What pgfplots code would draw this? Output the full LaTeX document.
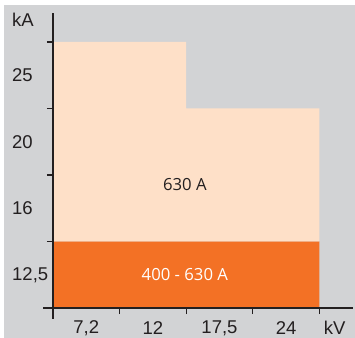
\documentclass[border=0pt]{standalone}
\usepackage{pgfplots}
\pgfplotsset{compat=1.18}
\usepackage{fontspec}
\setmainfont{Liberation Sans}
\newfontfamily\labfont{Open Sans}
\definecolor{bggray}{HTML}{D2D3D5}
\definecolor{peach}{HTML}{FEE0C8}
\definecolor{orng}{HTML}{F37125}
\definecolor{axdark}{HTML}{231F20}
\begin{document}
\begin{tikzpicture}[x=1bp,y=1bp]
\useasboundingbox (-53,-30) rectangle (302,308);
\fill[bggray] (-49,-30) rectangle (302,303);
\begin{axis}[
  at={(0,0)}, anchor=origin,
  x=66.6bp, y=66.5bp,
  xmin=-0.15, xmax=4.5, ymin=-0.165, ymax=4.44,
  axis lines=middle,
  axis line style={-, axdark, line width=1.3bp},
  axis on top,
  tick align=outside,
  major tick length=6bp,
  major tick style={axdark, line width=1.3bp},
  hide obscured x ticks=false,
  hide obscured y ticks=false,
  xtick={1,2,3,4}, xticklabels={},
  ytick={1,2,3,4}, yticklabels={},
  extra x ticks={0.5,1.5,2.5,3.5,4.23},
  extra x tick labels={{7,2},12,{17,5},24,kV},
  extra x tick style={major tick length=0pt, major tick style={draw=none},
     xticklabel style={anchor=center, yshift=-20bp, inner sep=0pt}},
  extra y ticks={0.5,1.5,2.5,3.5,4.33},
  extra y tick labels={{12,5},16,20,25,kA},
  extra y tick style={major tick length=0pt, major tick style={draw=none},
     yticklabel style={anchor=west, xshift=-41bp, inner sep=0pt}},
  ticklabel style={font=\fontsize{18.5bp}{22bp}\selectfont, text=axdark},
  /pgf/number format/assume math mode=true,
]
\addplot[draw=none, fill=orng] coordinates {(0,0) (4,0) (4,1) (0,1) (0,0)};
\addplot[draw=none, fill=peach] coordinates {(0,1) (4,1) (4,3) (2,3) (2,4) (0,4) (0,1)};
\node[font=\labfont\fontsize{16.7bp}{20bp}\selectfont, text=axdark] at (axis cs:1.98,1.85) {630 A};
\node[font=\labfont\fontsize{16.7bp}{20bp}\selectfont, text=white] at (axis cs:1.98,0.5) {400 - 630 A};
\end{axis}
\end{tikzpicture}
\end{document}
